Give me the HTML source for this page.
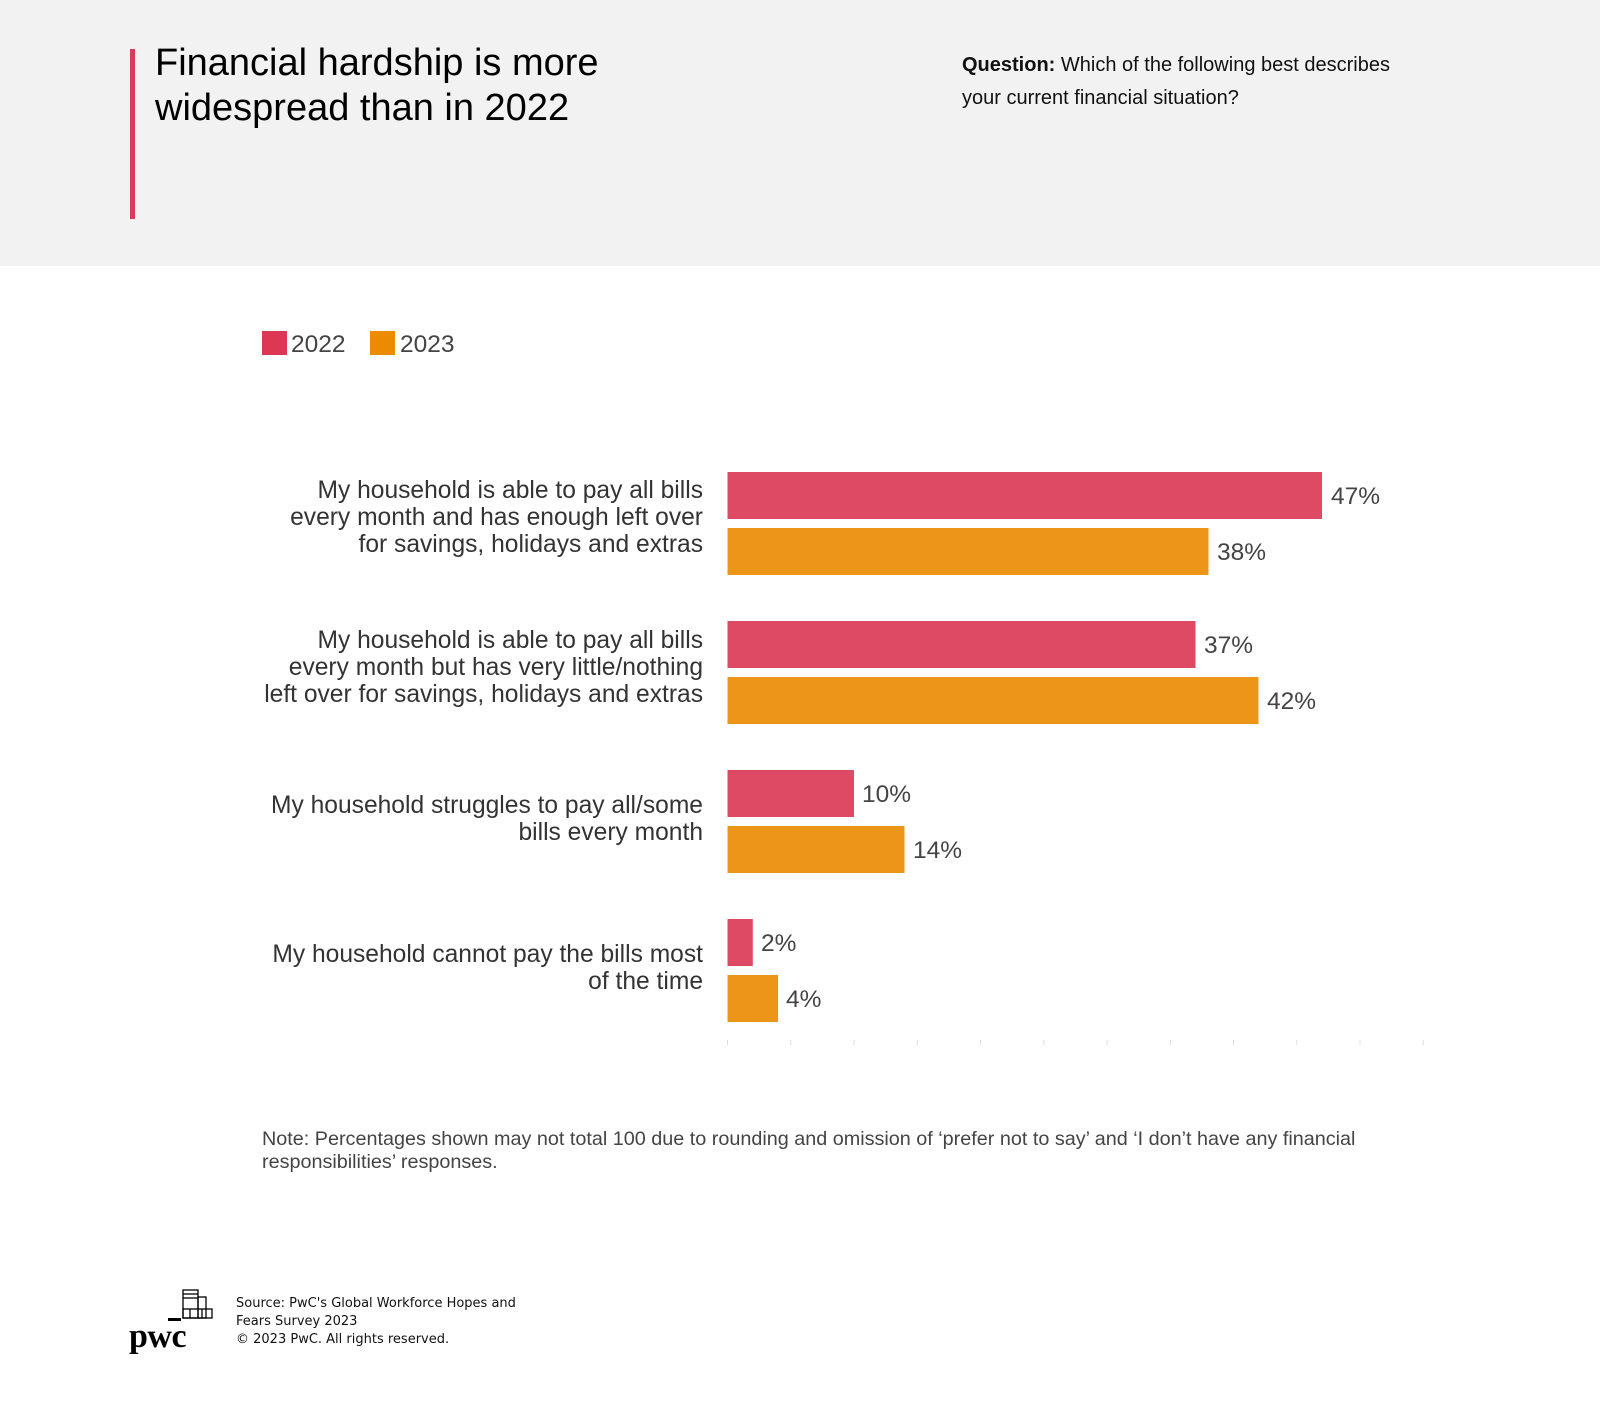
<!DOCTYPE html>
<html><head><meta charset="utf-8"><style>
html,body{margin:0;padding:0;background:#fff}
svg{display:block}
</style></head><body>
<svg width="1600" height="1408" viewBox="0 0 1600 1408" xmlns="http://www.w3.org/2000/svg" font-family="Liberation Sans, Arial, sans-serif">
<rect x="0" y="0" width="1600" height="266" fill="#f2f2f2"/>
<rect x="130" y="49" width="5" height="170" fill="#d93b5b"/>
<text x="155" y="75" font-size="38" fill="#000">Financial hardship is more</text>
<text x="155" y="120" font-size="38" fill="#000">widespread than in 2022</text>
<text x="962" y="71" font-size="20" fill="#111"><tspan font-weight="bold">Question:</tspan> Which of the following best describes</text>
<text x="962" y="104" font-size="20" fill="#111">your current financial situation?</text>

<rect x="262" y="331" width="25" height="24" fill="#dc3855"/>
<text x="291" y="352" font-size="24.5" fill="#444">2022</text>
<rect x="370" y="331" width="25" height="24" fill="#ec8a00"/>
<text x="400" y="352" font-size="24.5" fill="#444">2023</text>

<g fill="#de4a63">
<rect x="727.5" y="472" width="594.5" height="47"/>
<rect x="727.5" y="621" width="468" height="47"/>
<rect x="727.5" y="770" width="126.5" height="47"/>
<rect x="727.5" y="919" width="25.3" height="47"/>
</g>
<g fill="#ec9518">
<rect x="727.5" y="528" width="481" height="47"/>
<rect x="727.5" y="677" width="531" height="47"/>
<rect x="727.5" y="826" width="177" height="47"/>
<rect x="727.5" y="975" width="50.6" height="47"/>
</g>
<g font-size="24.5" fill="#444">
<text x="1331" y="504">47%</text>
<text x="1217" y="560">38%</text>
<text x="1204" y="653">37%</text>
<text x="1267" y="709">42%</text>
<text x="862" y="802">10%</text>
<text x="913" y="858">14%</text>
<text x="761" y="951">2%</text>
<text x="786" y="1007">4%</text>
</g>
<g font-size="24.6" fill="#333" text-anchor="end">
<text x="703" y="498">My household is able to pay all bills</text>
<text x="703" y="525">every month and has enough left over</text>
<text x="703" y="552">for savings, holidays and extras</text>
<text x="703" y="648">My household is able to pay all bills</text>
<text x="703" y="675">every month but has very little/nothing</text>
<text x="703" y="702">left over for savings, holidays and extras</text>
<text x="703" y="813">My household struggles to pay all/some</text>
<text x="703" y="840">bills every month</text>
<text x="703" y="962">My household cannot pay the bills most</text>
<text x="703" y="989">of the time</text>
</g>
<g stroke="#ddd" stroke-width="1">
<line x1="727.5" y1="1040" x2="727.5" y2="1045"/>
<line x1="790.8" y1="1040" x2="790.8" y2="1045"/>
<line x1="854" y1="1040" x2="854" y2="1045"/>
<line x1="917.3" y1="1040" x2="917.3" y2="1045"/>
<line x1="980.5" y1="1040" x2="980.5" y2="1045"/>
<line x1="1043.8" y1="1040" x2="1043.8" y2="1045"/>
<line x1="1107" y1="1040" x2="1107" y2="1045"/>
<line x1="1170.3" y1="1040" x2="1170.3" y2="1045"/>
<line x1="1233.5" y1="1040" x2="1233.5" y2="1045"/>
<line x1="1296.8" y1="1040" x2="1296.8" y2="1045"/>
<line x1="1360" y1="1040" x2="1360" y2="1045"/>
<line x1="1423.3" y1="1040" x2="1423.3" y2="1045"/>
</g>
<text x="262" y="1145" font-size="19.8" fill="#444">Note: Percentages shown may not total 100 due to rounding and omission of ‘prefer not to say’ and ‘I don’t have any financial</text>
<text x="262" y="1168" font-size="19.8" fill="#444">responsibilities’ responses.</text>

<g fill="none" stroke="#000" stroke-width="1.3">
<rect x="183" y="1290" width="15" height="28"/>
<line x1="183" y1="1294" x2="198" y2="1294"/>
<line x1="183" y1="1298" x2="198" y2="1298"/>
<rect x="198" y="1297" width="8" height="21"/>
<rect x="183" y="1309" width="29" height="9"/>
<line x1="190" y1="1309" x2="190" y2="1318"/>
<line x1="202" y1="1309" x2="202" y2="1318"/>
</g>
<rect x="168" y="1318" width="13" height="3" fill="#000"/>
<text x="129" y="1347" font-family="Liberation Serif, serif" font-weight="bold" font-size="34" fill="#000" letter-spacing="-0.5">pwc</text>
<g font-family="DejaVu Sans, sans-serif" font-size="13" fill="#111">
<text x="236" y="1307">Source: PwC's Global Workforce Hopes and</text>
<text x="236" y="1325">Fears Survey 2023</text>
<text x="236" y="1343">© 2023 PwC. All rights reserved.</text>
</g>
</svg>
</body></html>
